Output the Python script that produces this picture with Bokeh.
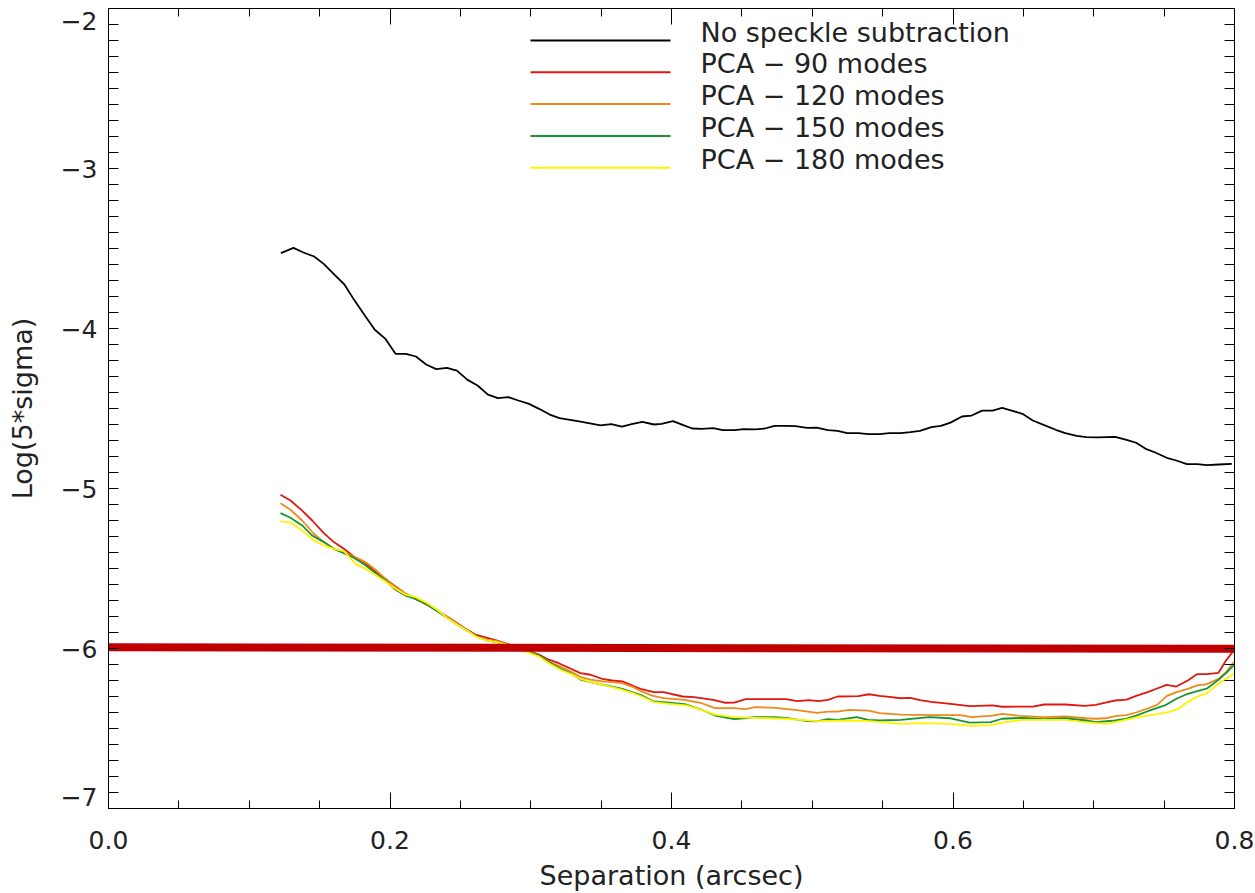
from bokeh.plotting import figure
from bokeh.models import (Range1d, LinearAxis, FixedTicker, Label, BoxAnnotation,
                          CustomJSTickFormatter)
from bokeh.embed import file_html
from bokeh.resources import INLINE

# ---------------- data ----------------
sep_black = [0.1225, 0.1314, 0.1385, 0.1461, 0.1529, 0.1605, 0.1676, 0.1745, 0.1821, 0.1892,
             0.1968, 0.2039, 0.2113, 0.2184, 0.2257, 0.2328, 0.2404, 0.2475, 0.2551, 0.2622,
             0.2696, 0.2767, 0.2841, 0.2912, 0.2988, 0.3059, 0.3135, 0.3204, 0.3344, 0.3496,
             0.3572, 0.3648, 0.3724, 0.3794, 0.3875, 0.3929, 0.4011, 0.4079, 0.4147, 0.4215,
             0.4296, 0.4364, 0.4446, 0.4514, 0.4595, 0.4664, 0.4732, 0.4813, 0.4881, 0.4963,
             0.5030, 0.5112, 0.5180, 0.5248, 0.5329, 0.5398, 0.5479, 0.5547, 0.5628, 0.5697,
             0.5765, 0.5846, 0.5914, 0.5982, 0.6064, 0.6132, 0.6207, 0.6281, 0.6349, 0.6417,
             0.6493, 0.6567, 0.6648, 0.6730, 0.6798, 0.6879, 0.6947, 0.7029, 0.7152, 0.7233,
             0.7301, 0.7369, 0.7437, 0.7518, 0.7587, 0.7662, 0.7736, 0.7804, 0.7886, 0.7981]
log_black = [-3.529, -3.496, -3.525, -3.550, -3.596, -3.663, -3.725, -3.821, -3.919, -4.008,
             -4.065, -4.158, -4.158, -4.175, -4.225, -4.254, -4.246, -4.263, -4.321, -4.356,
             -4.413, -4.435, -4.429, -4.450, -4.471, -4.502, -4.538, -4.560, -4.581, -4.606,
             -4.598, -4.613, -4.596, -4.583, -4.600, -4.596, -4.579, -4.602, -4.625, -4.627,
             -4.623, -4.635, -4.635, -4.629, -4.631, -4.625, -4.608, -4.608, -4.610, -4.621,
             -4.619, -4.635, -4.640, -4.654, -4.654, -4.660, -4.660, -4.654, -4.654, -4.648,
             -4.640, -4.617, -4.608, -4.588, -4.550, -4.544, -4.513, -4.513, -4.496, -4.513,
             -4.533, -4.575, -4.604, -4.633, -4.654, -4.671, -4.679, -4.681, -4.677, -4.696,
             -4.714, -4.752, -4.775, -4.808, -4.825, -4.848, -4.848, -4.854, -4.850, -4.846]

sep_pca90 = [0.1222, 0.1293, 0.1376, 0.1447, 0.1530, 0.1601, 0.1672, 0.1743, 0.1826, 0.1897,
             0.1968, 0.2039, 0.2110, 0.2181, 0.2252, 0.2323, 0.2394, 0.2465, 0.2536, 0.2607,
             0.2691, 0.2762, 0.2833, 0.2904, 0.2975, 0.3058, 0.3128, 0.3199, 0.3270, 0.3353,
             0.3425, 0.3508, 0.3579, 0.3650, 0.3721, 0.3780, 0.3875, 0.3943, 0.4079, 0.4160,
             0.4296, 0.4378, 0.4446, 0.4527, 0.4664, 0.4813, 0.4895, 0.4976, 0.5044, 0.5112,
             0.5180, 0.5329, 0.5403, 0.5479, 0.5547, 0.5628, 0.5697, 0.5765, 0.5846, 0.5982,
             0.6118, 0.6281, 0.6349, 0.6498, 0.6567, 0.6648, 0.6798, 0.6934, 0.7015, 0.7083,
             0.7152, 0.7233, 0.7301, 0.7383, 0.7450, 0.7518, 0.7587, 0.7668, 0.7736, 0.7804,
             0.7886, 0.7940, 0.7994]
log_pca90 = [-5.039, -5.075, -5.138, -5.200, -5.279, -5.335, -5.377, -5.425, -5.467, -5.523,
             -5.565, -5.613, -5.658, -5.690, -5.721, -5.758, -5.794, -5.835, -5.877, -5.913,
             -5.933, -5.950, -5.971, -5.992, -6.013, -6.038, -6.070, -6.092, -6.120, -6.154,
             -6.164, -6.190, -6.200, -6.206, -6.231, -6.252, -6.273, -6.273, -6.300, -6.304,
             -6.321, -6.339, -6.338, -6.317, -6.317, -6.317, -6.329, -6.323, -6.329, -6.321,
             -6.300, -6.298, -6.286, -6.296, -6.302, -6.311, -6.308, -6.323, -6.333, -6.346,
             -6.360, -6.356, -6.364, -6.363, -6.363, -6.350, -6.350, -6.358, -6.352, -6.338,
             -6.325, -6.319, -6.296, -6.273, -6.250, -6.227, -6.238, -6.200, -6.160, -6.160,
             -6.152, -6.075, -6.013]

sep_pca120 = [0.1222, 0.1293, 0.1376, 0.1459, 0.1530, 0.1601, 0.1672, 0.1743, 0.1826, 0.1897,
              0.1968, 0.2039, 0.2110, 0.2181, 0.2264, 0.2335, 0.2406, 0.2477, 0.2548, 0.2619,
              0.2691, 0.2762, 0.2833, 0.2904, 0.2975, 0.3058, 0.3128, 0.3211, 0.3282, 0.3353,
              0.3425, 0.3508, 0.3579, 0.3650, 0.3721, 0.3780, 0.3862, 0.3943, 0.4092, 0.4215,
              0.4310, 0.4446, 0.4527, 0.4595, 0.4732, 0.4881, 0.5030, 0.5112, 0.5180, 0.5262,
              0.5398, 0.5479, 0.5628, 0.5846, 0.6051, 0.6132, 0.6281, 0.6349, 0.6472, 0.6648,
              0.6798, 0.6947, 0.7015, 0.7083, 0.7152, 0.7233, 0.7301, 0.7383, 0.7450, 0.7518,
              0.7587, 0.7668, 0.7736, 0.7804, 0.7886, 0.7940, 0.7994]
log_pca120 = [-5.092, -5.133, -5.200, -5.283, -5.335, -5.377, -5.398, -5.425, -5.460, -5.508,
              -5.565, -5.617, -5.658, -5.683, -5.721, -5.758, -5.804, -5.846, -5.888, -5.925,
              -5.944, -5.954, -5.975, -5.996, -6.017, -6.044, -6.081, -6.113, -6.142, -6.179,
              -6.194, -6.206, -6.210, -6.217, -6.238, -6.265, -6.294, -6.310, -6.321, -6.342,
              -6.373, -6.373, -6.379, -6.367, -6.371, -6.383, -6.402, -6.394, -6.394, -6.383,
              -6.388, -6.404, -6.413, -6.417, -6.417, -6.429, -6.419, -6.408, -6.421, -6.429,
              -6.425, -6.436, -6.439, -6.436, -6.423, -6.417, -6.400, -6.375, -6.352, -6.298,
              -6.273, -6.252, -6.231, -6.223, -6.190, -6.148, -6.085]

sep_pca150 = [0.1222, 0.1293, 0.1376, 0.1447, 0.1530, 0.1601, 0.1672, 0.1743, 0.1826, 0.1897,
              0.1968, 0.2039, 0.2110, 0.2181, 0.2264, 0.2335, 0.2406, 0.2477, 0.2548, 0.2619,
              0.2691, 0.2762, 0.2833, 0.2904, 0.2975, 0.3058, 0.3128, 0.3211, 0.3282, 0.3353,
              0.3425, 0.3508, 0.3579, 0.3650, 0.3721, 0.3780, 0.3875, 0.3984, 0.4106, 0.4215,
              0.4310, 0.4446, 0.4514, 0.4595, 0.4732, 0.4813, 0.4963, 0.5030, 0.5112, 0.5180,
              0.5316, 0.5398, 0.5479, 0.5628, 0.5833, 0.5982, 0.6118, 0.6268, 0.6349, 0.6498,
              0.6648, 0.6798, 0.6947, 0.7015, 0.7152, 0.7233, 0.7301, 0.7383, 0.7505, 0.7587,
              0.7668, 0.7736, 0.7804, 0.7886, 0.7940, 0.7994]
log_pca150 = [-5.154, -5.183, -5.231, -5.294, -5.335, -5.377, -5.404, -5.433, -5.480, -5.529,
              -5.575, -5.633, -5.669, -5.690, -5.725, -5.767, -5.808, -5.850, -5.888, -5.925,
              -5.950, -5.960, -5.977, -6.002, -6.017, -6.044, -6.085, -6.127, -6.154, -6.194,
              -6.210, -6.225, -6.238, -6.252, -6.273, -6.290, -6.331, -6.338, -6.350, -6.383,
              -6.419, -6.442, -6.436, -6.429, -6.429, -6.433, -6.454, -6.456, -6.442, -6.446,
              -6.429, -6.446, -6.450, -6.446, -6.429, -6.436, -6.463, -6.460, -6.439, -6.433,
              -6.442, -6.436, -6.450, -6.460, -6.450, -6.438, -6.419, -6.392, -6.356, -6.314,
              -6.283, -6.267, -6.250, -6.196, -6.154, -6.106]

sep_pca180 = [0.1222, 0.1293, 0.1376, 0.1459, 0.1530, 0.1601, 0.1672, 0.1755, 0.1826, 0.1897,
              0.1968, 0.2039, 0.2110, 0.2181, 0.2252, 0.2335, 0.2406, 0.2477, 0.2548, 0.2619,
              0.2691, 0.2762, 0.2833, 0.2904, 0.2975, 0.3058, 0.3128, 0.3211, 0.3282, 0.3353,
              0.3425, 0.3508, 0.3579, 0.3650, 0.3721, 0.3780, 0.3875, 0.3984, 0.4106, 0.4215,
              0.4310, 0.4446, 0.4595, 0.4813, 0.5030, 0.5262, 0.5411, 0.5628, 0.5765, 0.5982,
              0.6132, 0.6268, 0.6349, 0.6498, 0.6648, 0.6798, 0.6934, 0.7083, 0.7152, 0.7287,
              0.7383, 0.7450, 0.7532, 0.7600, 0.7668, 0.7736, 0.7804, 0.7886, 0.7940, 0.7994]
log_pca180 = [-5.204, -5.213, -5.263, -5.325, -5.356, -5.377, -5.392, -5.471, -5.502, -5.540,
              -5.581, -5.627, -5.663, -5.679, -5.710, -5.758, -5.808, -5.850, -5.888, -5.929,
              -5.950, -5.960, -5.975, -6.002, -6.023, -6.050, -6.092, -6.133, -6.158, -6.190,
              -6.210, -6.225, -6.242, -6.258, -6.277, -6.297, -6.335, -6.346, -6.356, -6.383,
              -6.413, -6.429, -6.433, -6.439, -6.454, -6.450, -6.454, -6.471, -6.467, -6.471,
              -6.483, -6.479, -6.463, -6.446, -6.446, -6.446, -6.460, -6.471, -6.460, -6.433,
              -6.419, -6.410, -6.398, -6.377, -6.335, -6.300, -6.279, -6.221, -6.190, -6.158]

limit_sep = [0.0, 0.8]
limit_log = [-5.992, -6.002]

series_labels = ["No speckle subtraction", "PCA \u2212 90 modes", "PCA \u2212 120 modes",
                 "PCA \u2212 150 modes", "PCA \u2212 180 modes"]
series_colors = ["#000000", "#e0170f", "#ef8a1a", "#17952e", "#fff200"]

x_ticks = [0.0, 0.2, 0.4, 0.6, 0.8]
x_tick_labels = ["0.0", "0.2", "0.4", "0.6", "0.8"]
y_ticks = [-7, -6, -5, -4, -3, -2]
y_tick_labels = ["\u22127", "\u22126", "\u22125", "\u22124", "\u22123", "\u22122"]

# ---------------- styling ----------------
x_minor = [i * 0.05 for i in range(17)]
y_minor = [-7 + i * 0.1 for i in range(51)]
# IDL keeps the end labels inside the box: nudge the first / last label inward
y_label_nudge = [0.07, 0, 0, 0, 0, -0.075]
y_label_pos = [t + d for t, d in zip(y_ticks, y_label_nudge)]

FONT = "DejaVu Sans"
TXT = "#222222"

p = figure(width=1255, height=893, x_range=Range1d(0, 0.8), y_range=Range1d(-7, -2),
           output_backend="svg", toolbar_location=None,
           min_border_left=108, min_border_right=21, min_border_top=8, min_border_bottom=85,
           background_fill_color="white", border_fill_color="white")
p.grid.visible = False
p.outline_line_color = "#000000"
p.outline_line_width = 1

# main axes
p.xaxis.ticker = FixedTicker(ticks=x_ticks, minor_ticks=x_minor)
p.xaxis.major_label_overrides = dict(zip(x_ticks, x_tick_labels))
# y: tick marks all drawn as (equal-length) minor ticks; majors only carry the labels
p.yaxis.ticker = FixedTicker(ticks=y_label_pos, minor_ticks=y_minor)
p.yaxis.major_label_overrides = dict(zip(y_label_pos, y_tick_labels))
p.xaxis.axis_label = "Separation (arcsec)"
p.yaxis.axis_label = "Log(5*sigma)"
for ax in (p.xaxis[0], p.yaxis[0]):
    ax.axis_label_text_font = FONT
    ax.axis_label_text_font_style = "normal"
    ax.axis_label_text_font_size = "27px"
    ax.axis_label_text_color = TXT
    ax.major_label_text_font = FONT
    ax.major_label_text_font_size = "25px"
    ax.major_label_text_color = TXT
    ax.major_tick_out = 0
    ax.minor_tick_out = 0
    ax.axis_line_color = "#000000"
    ax.major_tick_line_color = "#000000"
    ax.minor_tick_line_color = "#000000"
p.xaxis.major_tick_in = 16
p.xaxis.minor_tick_in = 8
p.yaxis.major_tick_line_color = None
p.yaxis.major_tick_in = 0
p.yaxis.minor_tick_in = 10
p.xaxis.major_label_standoff = 22
p.xaxis.axis_label_standoff = 8
p.yaxis.major_label_standoff = 11
p.yaxis.axis_label_standoff = 20

blank = CustomJSTickFormatter(code="return ''")
top = LinearAxis(ticker=FixedTicker(ticks=x_ticks, minor_ticks=x_minor), formatter=blank,
                 major_tick_in=16, minor_tick_in=8, major_tick_out=0, minor_tick_out=0,
                 major_label_standoff=0, axis_line_color="#000000")
right = LinearAxis(ticker=FixedTicker(ticks=y_ticks, minor_ticks=y_minor), formatter=blank,
                   major_tick_in=10, minor_tick_in=10, major_tick_out=0, minor_tick_out=0,
                   major_label_standoff=0, axis_line_color="#000000")
p.add_layout(top, "above")
p.add_layout(right, "right")

# curves
seps = [sep_black, sep_pca90, sep_pca120, sep_pca150, sep_pca180]
logs = [log_black, log_pca90, log_pca120, log_pca150, log_pca180]
for s, l, c in zip(seps, logs, series_colors):
    p.line(s, l, line_color=c, line_width=1.8)

p.line(limit_sep, limit_log, line_color="#c00000", line_width=8)

# legend (IDL style: text sits just above the sample line), screen units from frame bottom-left
LEG_X0, LEG_W, LEG_TOP, LEG_STEP, LEG_TEXT_GAP, LEG_TEXT_RAISE = 422, 140, 768, 31.8, 30, 8.5
for i, (lab, c) in enumerate(zip(series_labels, series_colors)):
    yy = LEG_TOP - i * LEG_STEP
    p.add_layout(BoxAnnotation(left=LEG_X0, right=LEG_X0 + LEG_W, bottom=yy - 1, top=yy + 1,
                               left_units="screen", right_units="screen",
                               bottom_units="screen", top_units="screen",
                               fill_color=c, fill_alpha=1.0, line_color=None))
    p.add_layout(Label(x=LEG_X0 + LEG_W + LEG_TEXT_GAP, y=yy + LEG_TEXT_RAISE,
                       x_units="screen", y_units="screen",
                       text=lab, text_align="left", text_baseline="middle",
                       text_font=FONT, text_font_size="27px", text_color=TXT))

open("out.html", "w").write(file_html(p, INLINE))
